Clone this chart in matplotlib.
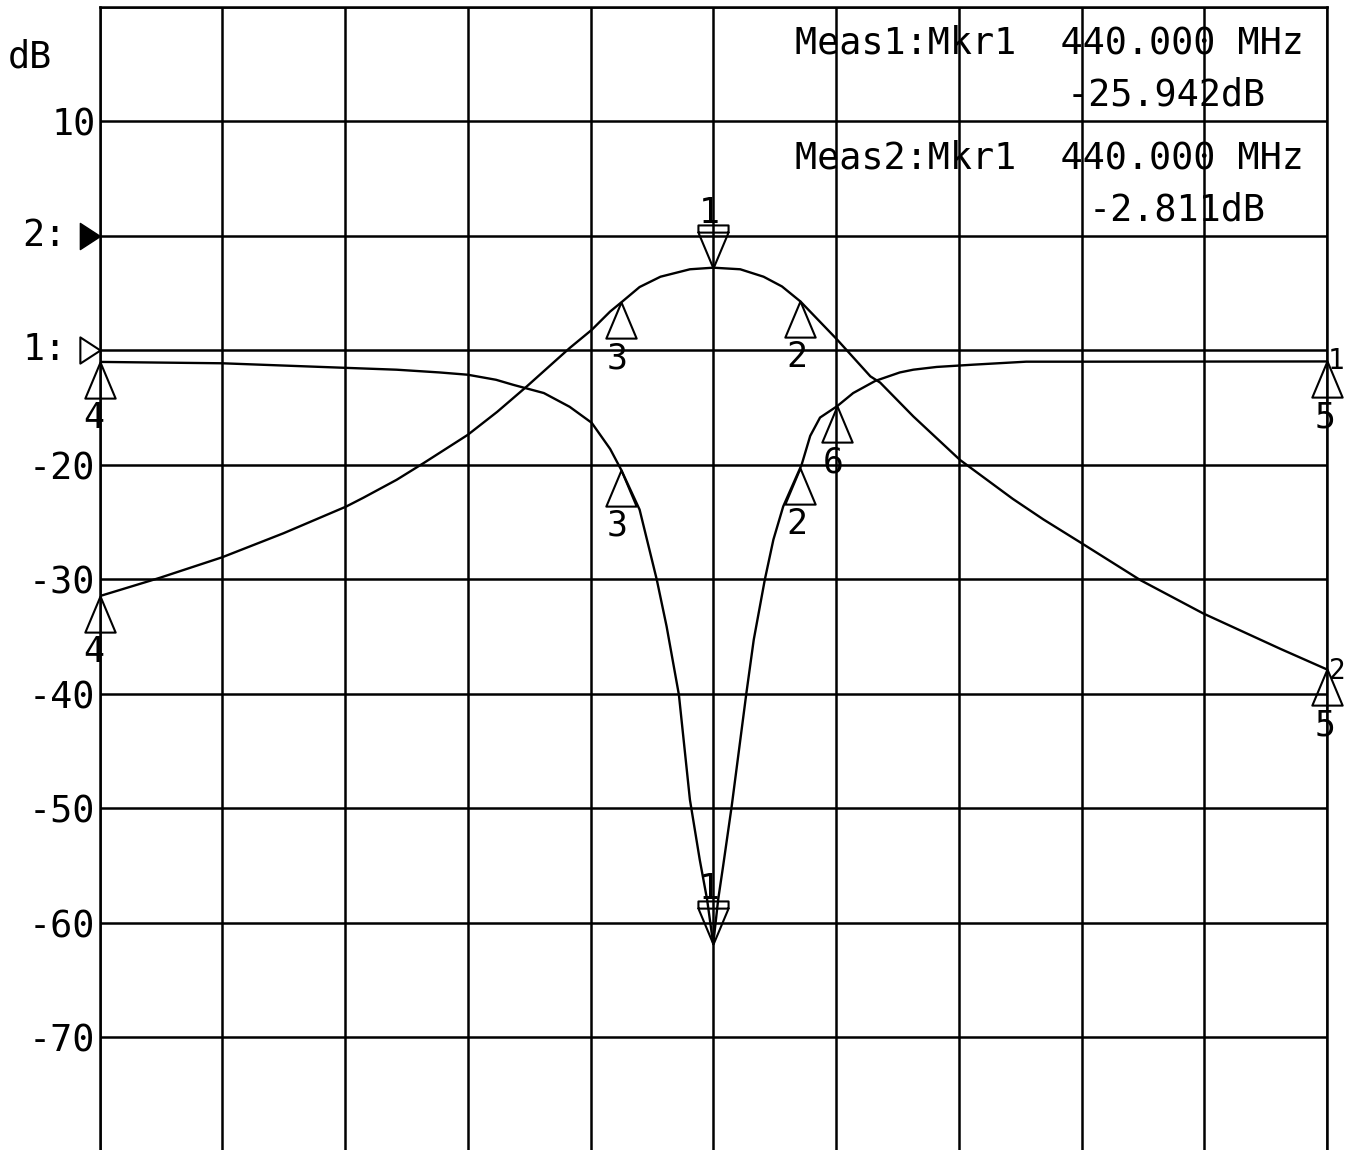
import numpy as np
import matplotlib
matplotlib.use("Agg")
import matplotlib.pyplot as plt
from matplotlib.path import Path

# trace 1 : S11, 5 dB/div, reference 0 dB on the 3rd line from the top
s11_freq = [390.0, 400.0, 410.1, 414.2, 417.7, 420.0, 422.3, 423.7, 426.2, 428.3,
            430.1, 431.6, 432.5, 434.0, 435.4, 436.2, 437.2, 438.1, 438.9, 439.5,
            440.0, 440.4, 440.8, 441.5, 442.7, 443.3, 444.2, 444.9, 445.7, 447.2,
            447.9, 448.7, 450.1, 451.4, 453.2, 455.2, 456.3, 458.2, 461.2, 465.5,
            469.9, 490.0]
s11_db = [-0.52, -0.58, -0.78, -0.86, -0.98, -1.08, -1.30, -1.52, -1.88, -2.48,
          -3.18, -4.32, -5.23, -6.97, -10.03, -12.07, -15.05, -19.64, -22.26, -24.0,
          -25.942, -24.0, -22.55, -19.93, -14.98, -12.65, -10.03, -8.28, -6.83, -5.01,
          -3.75, -2.95, -2.45, -1.88, -1.35, -0.98, -0.86, -0.74, -0.64, -0.51,
          -0.51, -0.50]

# trace 2 : S21, 10 dB/div, reference 0 dB on the 2nd line from the top
s21_freq = [390.0, 394.9, 400.0, 405.0, 410.1, 411.5, 414.2, 416.4, 420.0, 422.4,
            424.8, 428.3, 430.1, 431.6, 432.6, 434.0, 435.7, 438.1, 440.0, 442.2,
            444.1, 445.6, 447.1, 450.1, 452.8, 453.6, 456.3, 460.1, 464.4, 466.9,
            469.9, 474.8, 479.9, 486.2, 490.0]
s21_db = [-31.5, -29.9, -28.1, -26.0, -23.67, -22.9, -21.34, -19.88, -17.41, -15.4,
          -13.19, -9.83, -8.24, -6.64, -5.76, -4.5, -3.6, -2.95, -2.811, -2.95,
          -3.6, -4.45, -5.76, -9.1, -12.3, -12.85, -15.8, -19.6, -23.0, -24.8,
          -26.8, -30.1, -33.0, -36.1, -37.9]

s11_ref_db = 0
s21_ref_db = 0

# маркеры (одинаковые на обоих трассах, 6-й только на S11)
marker_names = ["1", "2", "3", "4", "5"]
marker_freq = [440.0, 447.1, 432.5, 390.0, 490.0]
s11_extra_names = ["6"]
s11_extra_freq = [450.1]

y_ticks = [20, 10, 0, -10, -20, -30, -40, -50, -60, -70, -80]
y_tick_labels = ["", "10", "", "", "-20", "-30", "-40", "-50", "-60", "-70", ""]

meas_lines = ["Meas1:Mkr1  440.000 MHz", "Meas2:Mkr1  440.000 MHz"]
meas_values = ["-25.942dB", "-2.811dB"]

W, H = 1355, 1150
PT = 0.72  # пунктов в пикселе при dpi=100
FONT = "DejaVu Sans Mono"
FS = 26.5

fig = plt.figure(figsize=(W / 100, H / 100), dpi=100, facecolor="white")
ax2 = fig.add_axes([99.5 / W, 1 - 1151.5 / H, (1327 - 99.5) / W, (1151.5 - 6.5) / H])
ax2.set_xlim(390, 490)
ax2.set_ylim(-80, 20)
ax2.set_xticks(np.arange(390, 491, 10))
ax2.set_yticks(y_ticks)
ax2.set_yticklabels(y_tick_labels, fontsize=FS, family=FONT)
ax2.set_xticklabels([])
ax2.tick_params(length=0, pad=3)
ax2.grid(True, color="black", lw=1.8)
for s in ax2.spines.values():
    s.set_linewidth(1.8)

ax1 = ax2.twinx()
ax1.set_ylim(-35, 15)
ax1.set_yticks([])
for s in ax1.spines.values():
    s.set_visible(False)

ax1.plot(s11_freq, s11_db, color="black", lw=1.7)
ax2.plot(s21_freq, s21_db, color="black", lw=1.7)

# треугольники маркеров: вершина в точке трассы
tri_below = Path([(0, 0), (-0.42, -1), (0.42, -1), (0, 0)],
                 [Path.MOVETO, Path.LINETO, Path.LINETO, Path.CLOSEPOLY])
# активный маркер: треугольник вниз с планкой сверху
tri_above = Path([(0, 0), (-0.42, 1), (0.42, 1), (0, 0),
                  (-0.42, 1), (-0.42, 1.2), (0.42, 1.2), (0.42, 1)],
                 [Path.MOVETO, Path.LINETO, Path.LINETO, Path.CLOSEPOLY,
                  Path.MOVETO, Path.LINETO, Path.LINETO, Path.LINETO])
ref_tri = Path([(0, 0), (-1, 0.65), (-1, -0.65), (0, 0)],
               [Path.MOVETO, Path.LINETO, Path.LINETO, Path.CLOSEPOLY])


def draw_markers(ax, freq, db, names, fmarks):
    for name, f in zip(names, fmarks):
        y = np.interp(f, freq, db)
        above = name == "1"
        ax.plot(f, y, marker=tri_above if above else tri_below, ms=62 if above else 52,
                mfc="none", mec="black", mew=1.5, clip_on=False, zorder=5)
        dx = -4 if f not in (390.0, 490.0) else (-6 if f == 390.0 else -2)
        dy = 55 if above else -56
        ax.annotate(name, xy=(f, y), xytext=(dx * PT, dy * PT), textcoords="offset points",
                    ha="center", va="center", fontsize=25, family=FONT,
                    annotation_clip=False, zorder=6)


draw_markers(ax1, s11_freq, s11_db, marker_names + s11_extra_names, marker_freq + s11_extra_freq)
draw_markers(ax2, s21_freq, s21_db, marker_names, marker_freq)

# номера трасс у правого края
ax1.annotate("1", xy=(s11_freq[-1], s11_db[-1]), xytext=(9 * PT, 0), textcoords="offset points",
             ha="center", va="center", fontsize=20, family=FONT, annotation_clip=False)
ax2.annotate("2", xy=(s21_freq[-1], s21_db[-1]), xytext=(10 * PT, -2 * PT), textcoords="offset points",
             ha="center", va="center", fontsize=20, family=FONT, annotation_clip=False)

# опорные уровни слева
ax2.plot(s21_freq[0], s21_ref_db, marker=ref_tri, ms=29, mfc="black", mec="black",
         clip_on=False, zorder=5)
ax2.annotate("2:", xy=(s21_freq[0], s21_ref_db), xytext=(-33 * PT, 0), textcoords="offset points",
             ha="right", va="center", fontsize=FS, family=FONT, annotation_clip=False)
ax1.plot(s11_freq[0], s11_ref_db, marker=ref_tri, ms=29, mfc="white", mec="black", mew=1.5,
         clip_on=False, zorder=5)
ax1.annotate("1:", xy=(s11_freq[0], s11_ref_db), xytext=(-33 * PT, 0), textcoords="offset points",
             ha="right", va="center", fontsize=FS, family=FONT, annotation_clip=False)

fig.text(8 / W, 1 - 57 / H, "dB", fontsize=FS, family=FONT, va="center")

for i, (line, val) in enumerate(zip(meas_lines, meas_values)):
    fig.text(795 / W, 1 - (43 + 115 * i) / H, line, fontsize=FS, family=FONT, va="center")
    fig.text(1266 / W, 1 - (95 + 115 * i) / H, val, fontsize=FS, family=FONT,
             va="center", ha="right")

fig.savefig("out.png", dpi=100, facecolor="white")
